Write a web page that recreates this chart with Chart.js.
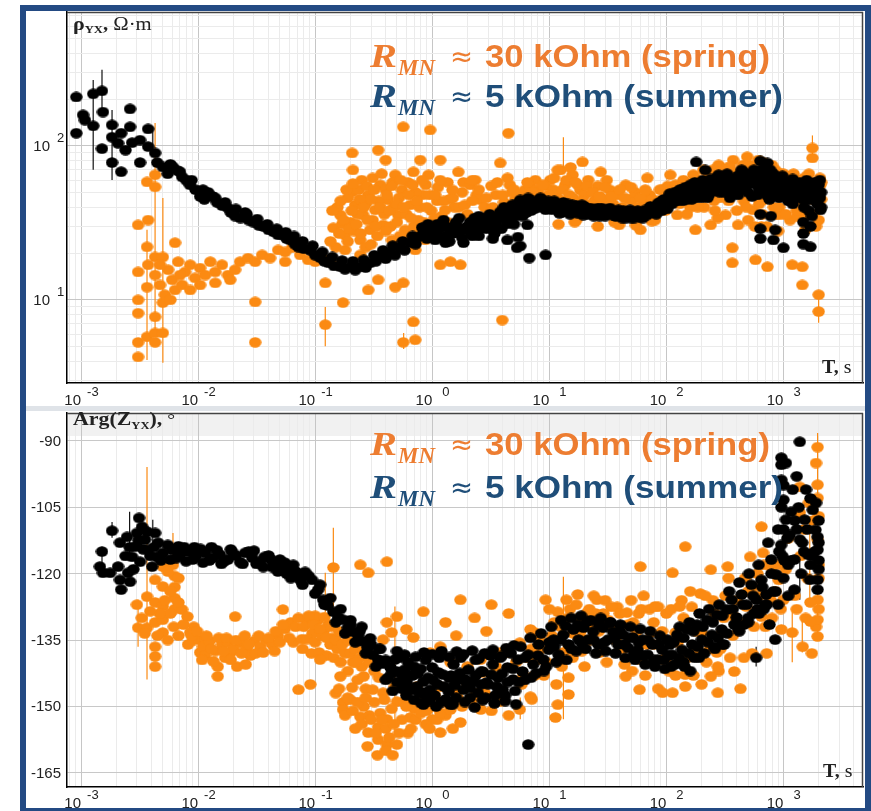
<!DOCTYPE html>
<html lang="en">
<head>
<meta charset="UTF-8">
<title>rho_yx and Arg(Z_yx) vs T</title>
<script src="https://cdn.jsdelivr.net/npm/chart.js"></script>
<style>
    body { margin: 0; background: #fff; }
    #wrap { position: relative; width: 871px; height: 811px; overflow: hidden; background: #fff; }
    #topChart { position: absolute; left: 0; top: 0; }
    #bottomChart { position: absolute; left: 0; top: 406px; }
    #sep { position: absolute; left: 26px; top: 406px; width: 839px; height: 5px; background: #dfe3e8; }
    #frame { position: absolute; left: 20px; top: 5px; width: 851px; height: 806px; box-sizing: border-box;
             border: 6px solid #234a83; border-bottom-width: 3px; pointer-events: none; }
</style>
</head>
<body>
<div id="wrap">
    <canvas id="topChart" width="871" height="406"></canvas>
    <canvas id="bottomChart" width="871" height="405"></canvas>
    <div id="sep"></div>
    <div id="frame"></div>
</div>
<script>
// ---- data: [T (s), value] ----
const rhoSummer = [
    [0.00091,208],[0.00091,121],[0.00104,159],[0.00108,147],[0.00127,218],[0.00127,135],[0.00151,228],[0.00154,166],
    [0.00151,96],[0.00184,137],[0.00184,114],[0.00184,78],[0.00207,104],[0.0024,94],[0.0022,121],[0.0022,68],
    [0.00262,174],[0.00262,133],[0.00273,105],[0.00319,109],[0.00319,78],[0.00374,129],[0.00374,99],[0.00429,90],[0.00447,78],
    [0.005,73],[0.0061,73],[0.0073,63],[0.0085,56],[0.0104,47],[0.0122,50],[0.0145,43],[0.0177,40],[0.0207,35],[0.0252,37],
    [0.0295,32],[0.036,30],[0.044,27.7],[0.052,26.4],[0.061,24.5],[0.072,22],[0.091,21],[0.11,18.8],[0.13,17.4],[0.164,16.4],
    [0.2,16.4],[0.243,16.4],[0.295,17.4],[0.36,19],[0.44,20.2],[0.53,21.8],[0.65,23.5],[0.84,27.2],[0.96,28.5],
    [0.0055,66],[0.0067,69],[0.0079,60],[0.0095,52],[0.0113,45],[0.0133,47],[0.016,41],[0.019,37],[0.023,34],[0.027,33],
    [0.033,30.5],[0.04,28.5],[0.048,26.5],[0.057,25],[0.067,23],[0.08,21.5],[0.1,19.5],[0.12,17.8],[0.145,16.6],[0.18,15.8],
    [0.22,15.6],[0.27,16.2],[0.33,17.8],[0.4,18.5],[0.48,19.5],[0.58,21],[0.72,23],[0.75,25.5],[0.9,25],
    [0.0058,76],[0.007,68],[0.0088,60],[0.011,52],[0.014,46],[0.017,43],[0.021,39],[0.026,36],[0.032,33.5],[0.039,31],
    [0.047,29],[0.056,27.5],[0.066,26],[0.078,24],[0.095,22.5],[0.115,20.5],[0.14,19],[0.17,18],[0.21,17.8],[0.26,18.2],
    [0.32,19.5],[0.38,21],[0.46,22.5],[0.56,24],[0.68,26],[0.82,29.5],[0.92,31],
    [1.06,24.5],[1.17,29.4],[1.35,26.4],[1.57,30.7],[1.8,25.3],[2.11,32],[2.43,27.7],[2.84,34],[3.26,29.4],[3.81,37.3],
    [4.38,31.2],[4.83,41.4],[5.65,44.6],[6.6,45.9],[7.6,41.4],[8.7,44.6],[10.2,41.4],[11.9,40.2],[13.7,40.2],[16,38.4],
    [18.4,39.4],[21.5,37.3],[24.7,38.4],[29,36.7],[33.9,37.3],[40.4,35.6],[47.3,37.3],[55.4,35.6],[66,38.4],[75.9,39.4],
    [89,43.3],[104,45.9],[119,50.2],[140,47.3],[160,55.9],[184,50.2],[215,55.9],[252,53.4],[290,58.4],[339,62],[389,51.8],
    [447,60.1],[522,64.9],[600,55.9],[675,66.9],[775,60.1],[906,51.8],[1040,55.9],[1190,48.1],[1400,51.8],[1640,44.6],
    [1880,48.1],[2070,38.4],
    [1.25,33],[1.65,27.5],[2.3,30.5],[3.0,31.5],[4.0,34.5],[5.2,37],[6.1,40],[7.0,38],[9.3,38.5],[12.8,37],[15,36],
    [19.5,35.5],[27,35],[37,34.8],[50,34],[60,34.5],[82,36],[96,40],[112,42],[130,52],[150,45],[170,48],[200,46],[235,49],
    [270,62],[310,50],[360,56],[420,65],[480,55],[560,70],[640,62],[720,48],[820,66],[950,58],[1100,44],[1250,55],[1500,40],
    [1750,55],[1950,42],[2100,50],
    [1.1,31],[1.3,23.5],[1.45,28],[1.7,34],[1.95,28.5],[2.2,26],[2.5,35],[2.7,30],[3.1,36],[3.4,27],[3.6,33],[4.2,38],
    [4.6,35],[5.0,31],[5.4,40],[5.9,35],[6.3,42],[7.2,44],[8.0,40],[8.4,46],[9.6,43],[11,44],[12.5,38.5],[14.5,42],
    [17,41],[20,40.5],[23,36],[26,39.5],[31,38.5],[35,35.5],[43,38],[45,34],[52,36.5],[58,37],[63,34],[71,36.5],
    [78,37.5],[86,40],[92,38],[100,42],[107,49],[115,46],[125,44],[135,52],[145,54],[165,45],[175,58],[195,53],[205,60],
    [225,46],[245,57],[260,51],[280,65],[300,54],[330,58],[350,46],[375,60],[400,56],[430,52],[460,67],[500,58],[540,47],
    [580,63],[620,52],[660,58],[700,72],[740,56],[800,50],[860,62],[920,46],[980,64],[1060,48],[1150,58],[1200,42],
    [1300,50],[1350,56],[1450,46],[1550,52],[1650,38],[1800,52],[1900,44],[2000,56],[2050,46],[2100,40],
    [1.02,26.5],[1.1,27.5],[1.2,25.5],[1.3,30],[1.4,24],[1.5,27],[1.6,32],[1.75,29],[1.85,23.5],[2.0,30],[2.15,27],
    [2.3,34],[2.5,26],[2.6,32],[2.9,29],[3.1,33.5],[3.3,25],[3.5,30.5],[3.7,35],[3.9,29],[4.1,40],[4.5,33],[4.7,38],
    [5.1,35],[5.3,42],[5.8,38],[6.4,37],[6.8,43],[7.4,39],[8.1,43],[8.9,40],[9.8,44],
    [10.5,38.5],[11.5,42],[12.2,36.5],[13.2,43],[14.8,38.5],[15.8,41.5],[17.5,36.5],[19,41.5],[21,36],[22.5,39.5],
    [24,35],[26,37],[28,39.5],[30,35],[33,39.5],[36,36.5],[39,38.5],[42,34],[46,35.5],[49,38.5],[53,34],[57,38],[62,36],
    [68,35.5],[73,40.5],[80,38],[85,42.5],[90,40],[95,45],[102,39],[110,47],[118,44],[128,47],[138,44],[148,50],[158,46],
    [168,53],[180,46],[190,57],[210,50],[230,53],[240,61],[265,56],[285,50],[310,57],[330,66],[355,51],[380,62],[410,48],
    [440,70],[470,58],[500,50],[530,66],[560,57],[600,48],[650,70],[690,62],[730,54],[770,70],[810,56],[880,60],[930,55],
    [1000,50],[1080,58],[1120,52],[1200,61],[1280,46],[1380,58],[1480,50],[1580,60],[1700,48],[1850,58],[1950,52],[2050,60],
    [635,80],[635,66],[635,36],[635,29],[635,25],[1480,55],[1480,45],[1480,32],[1480,27],[1480,23],
    [180,78.7],[215,69.8],[730,77.6],[822,24.5],[1000,21.8],[1700,22.1],[850,28.5],[5.65,22.4],[6.74,18.7],[9.3,19.6],
    [4.38,24.5],[5.4,25.6],[780,35],[760,45],[1700,30],[1750,35],[6.5,30.7],[5.3,21.8]
];
const rhoSpring = [
    [0.00307,30.7],[0.00374,33],[0.00366,58.4],[0.00429,64.9],[0.00429,54.2],[0.00307,15.2],[0.00307,10],[0.00307,8.2],
    [0.00307,5.3],[0.00307,4.26],[0.00366,22.1],[0.00366,12.1],[0.00366,5.75],[0.00429,6.1],[0.00429,5.3],[0.005,6.1],
    [0.00429,19],[0.005,9.6],[0.00429,7.76],[0.00635,23.5],[0.005,19],
    [0.00374,16.9],[0.00429,14.5],[0.00473,12.5],[0.00554,15.7],[0.006,13.5],[0.00675,17.7],[0.00775,15.2],[0.00855,16.9],
    [0.0094,13.9],[0.0104,16.1],[0.0115,14.5],[0.0127,17.7],[0.014,15.2],[0.016,16.9],[0.018,14.5],[0.0207,15.7],
    [0.0228,17.7],[0.0267,18.7],[0.0307,17.7],[0.0352,19.6],[0.0412,18.7],[0.0483,21.1],[0.0554,20.5],[0.0636,21.8],
    [0.0744,19.6],[0.087,18.2],[0.1,17.7],[0.115,18.7],[0.134,17.7],[0.0744,22.8],[0.0554,17.7],
    [0.0052,10.8],[0.00635,11.6],[0.0073,12.5],[0.00855,11.6],[0.0104,12.5],[0.014,12.9],[0.0188,13.5],[0.00473,16.9],
    [0.007,14.5],[0.0058,10],
    [0.0307,9.7],[0.0307,5.3],[0.122,6.9],[0.207,90],[0.21,69.8],[0.207,50.2],[0.345,94],[0.122,12.9],[0.173,9.6],
    [0.565,133],[0.96,127],[0.284,11.6],[0.345,13.5],[0.483,12.1],[0.565,12.9],[0.565,5.3],[0.69,7.2],[0.716,5.5],
    [0.143,29.4],[0.164,35.6],[0.18,26.4],[0.2,32],[0.22,41.4],[0.243,24.5],[0.257,35.6],[0.284,48.1],[0.295,28.5],
    [0.326,38.4],[0.36,55.9],[0.381,30.7],[0.42,44.6],[0.453,24.5],[0.483,64.9],[0.512,35.6],[0.55,51.8],[0.587,28.5],
    [0.65,41.4],[0.69,67.8],[0.76,33],[0.83,48.1],[0.87,24.5],[0.93,64.9],[0.4,81],[0.25,60],[0.79,81],[0.716,21.1],
    [0.18,21.1],[0.243,19.6],
    [0.15,22],[0.155,40],[0.17,31],[0.19,46],[0.19,24],[0.215,28],[0.23,36],[0.235,52],[0.27,42],[0.27,22],[0.31,33],
    [0.31,62],[0.34,26],[0.35,44],[0.39,36],[0.4,52],[0.44,30],[0.46,58],[0.47,40],[0.52,46],[0.53,26],[0.6,36],[0.62,58],
    [0.7,30],[0.72,50],[0.78,40],[0.85,32],[0.88,56],[0.98,38],[1.0,29],[1.1,44],[1.2,35],[1.35,58],[1.4,45],[1.55,40],
    [1.6,30],[1.8,50],[2.0,36],
    [0.135,24],[0.14,38],[0.16,27],[0.165,44],[0.175,33],[0.185,52],[0.195,29],[0.205,38],[0.21,57],[0.225,31],[0.24,45],
    [0.245,27],[0.26,40],[0.275,55],[0.28,33],[0.3,45],[0.3,23],[0.32,52],[0.33,30],[0.36,40],[0.37,66],[0.4,28],[0.41,48],
    [0.43,38],[0.45,55],[0.5,32],[0.5,42],[0.54,60],[0.57,40],[0.6,26],[0.63,48],[0.66,34],[0.68,56],[0.74,44],[0.8,28],
    [0.82,60],[0.9,40],[0.95,48],[1.05,34],[1.12,54],[1.25,44],[1.35,32],[1.5,46],[1.7,40],[1.85,58],
    [4.47,121],[3.81,77.6],[1.67,67.8],[2.33,60],[1.17,60],[1.17,16.9],[1.43,17.7],[1.74,16.9],[3.96,7.4],
    [1.06,48.1],[1.29,38.4],[1.49,51.8],[1.9,41.4],[2.11,55.9],[2.6,44.6],[3.0,35.6],[3.5,48.1],[4.6,55.9],[5.1,44.6],
    [6.2,51.8],[7.6,60],[8.3,48.1],[10.2,60],[11.3,48.1],[12.5,69.8],[13.7,55.9],[15.8,64.9],[16.5,32],[18.4,51.8],
    [21.5,60],[24.7,44.6],[27.5,67.8],[33,51.8],[39.5,30.7],[45,55.9],[51,44.6],[60,28.5],[68.7,62],[80,33],[93,51.8],
    [108,64.9],[124,35.6],[153,55.9],[177,28.5],[207,69.8],[239,30.7],[280,75.3],[320,35.6],[372,81],[410,30.7],
    [475,69.8],[550,38.4],[610,81],[675,44.6],[775,64.9],[880,35.6],[1030,60],[1140,33],[1340,48.1],[1540,28.5],
    [1800,44.6],[2070,55.9],
    [2.4,48],[2.8,40],[3.2,55],[4.1,43],[4.8,50],[5.5,48],[6.8,55],[7.9,52],[9.2,55],[10.8,52],[12.2,45],[14,60],[16,46],
    [17.5,56],[20,48],[22.5,42],[26,55],[29,45],[31,60],[35,42],[38,48],[42,40],[48,45],[54,50],[57,40],[64,44],[72,48],
    [85,44],[98,38],[103,55],[115,48],[130,42],[140,60],[160,40],[190,60],[210,40],[230,65],[255,44],[275,34],[300,62],
    [340,44],[360,68],[400,38],[440,60],[460,44],[520,75],[570,30],[600,66],[660,36],[700,58],[720,30],[800,75],[830,40],
    [950,66],[970,36],[1080,58],[1220,66],[1320,35],[1400,60],[1650,66],[1900,30],[2050,62],[2100,45],
    [2.2,44],[2.5,52],[2.9,46],[3.3,40],[3.6,58],[4.0,48],[4.4,62],[5.0,52],[5.8,45],[6.5,58],[7.2,50],[8.8,56],[9.8,48],
    [11,62],[13,52],[14.8,48],[16.8,58],[19,44],[21,55],[23.5,50],[27,47],[30,54],[34,47],[40,52],[44,46],[50,54],[60,46],
    [66,52],[76,45],[88,52],[95,45],[120,56],[135,46],[170,65],[185,40],[225,56],[250,70],[290,46],[330,72],[380,56],
    [450,75],[480,40],[560,64],[620,42],[680,78],[760,52],[850,70],[920,40],[1000,66],[1050,36],[1150,50],[1250,44],
    [1400,40],[1500,62],[1700,50],[1800,36],[1950,45],[2100,58],
    [366,21.8],[366,17.4],[577,18.2],[730,16.4],[1190,16.9],[1450,16.4],[1450,12.5],[2000,10.8],[2000,8.4],[1770,97],
    [1770,83.5],[1700,57.5],[11.8,69.8],[15.2,72.5],[19.2,78.7],[350,73],[490,85],[310,67.8],[1.17,81],[2.2,60],
    [12,31],[17,33],[26,30],[36,32],[55,30.5],[75,32.5],[150,36],[260,38],[500,33],[650,30],[900,28],[1300,38],
    [1600,36],[2000,33]
];
const phaseSummer = [
    [0.00151,-115],[0.00145,-118.4],[0.00184,-110.3],[0.00154,-119.8],[0.00177,-119.8],[0.00207,-118.4],[0.00215,-121.4],
    [0.0022,-123.6],[0.00215,-113],[0.00247,-111.7],[0.00252,-119.8],[0.00262,-121.8],[0.00273,-116.2],[0.0029,-113.9],
    [0.003,-110.8],[0.00313,-107.4],[0.00319,-117.3],[0.00332,-109.4],[0.00352,-112.3],[0.00366,-110.5],[0.00374,-114.6],
    [0.00405,-118.4],[0.00429,-110.8],[0.00447,-116.2],[0.00455,-113],
    [0.0024,-116],[0.0028,-119],[0.0034,-114.5],[0.0039,-116],[0.0026,-114],[0.0031,-112.5],[0.0042,-114],
    [0.005,-115.3],[0.006,-114.6],[0.007,-115.7],[0.0082,-115],[0.0096,-115.9],[0.0115,-115.3],[0.0135,-116.4],
    [0.0154,-115.7],[0.018,-116.8],[0.021,-115.9],[0.0252,-115.3],[0.029,-116.4],[0.034,-117.3],[0.04,-115.9],
    [0.046,-117.5],[0.053,-118.4],[0.061,-119.1],[0.07,-120.2],[0.079,-120],
    [0.0055,-113.5],[0.0065,-116.5],[0.0076,-114],[0.009,-116.8],[0.0105,-114.4],[0.0125,-117],[0.0145,-114.7],
    [0.0167,-117.2],[0.0195,-115],[0.0228,-117.4],[0.027,-115],[0.0315,-117.8],[0.037,-116.2],[0.043,-118.5],
    [0.05,-116.8],[0.057,-120],[0.065,-118],[0.075,-121.5],
    [0.0048,-117],[0.0058,-116.8],[0.0068,-113.8],[0.0079,-117.2],[0.0093,-114],[0.011,-117.5],[0.013,-114],
    [0.0158,-117.8],[0.019,-114.5],[0.024,-117.8],[0.03,-114.8],[0.036,-118.5],[0.042,-116.8],[0.048,-119.5],
    [0.055,-117.5],[0.062,-121],[0.068,-119.5],[0.078,-122.5],[0.088,-120.5],[0.1,-124.5],[0.11,-122.5],[0.12,-127],
    [0.135,-125.5],[0.15,-131],[0.165,-128],[0.18,-133.5],[0.2,-131.5],[0.22,-135.5],[0.24,-133],[0.27,-138],[0.3,-136],
    [0.33,-141],[0.35,-137],[0.4,-139.5],
    [0.082,-119.6],[0.094,-121.4],[0.106,-123.6],[0.117,-125.9],[0.128,-127.2],[0.143,-128.6],[0.157,-129.9],
    [0.173,-130.4],[0.19,-132.2],[0.21,-133.1],[0.233,-134],[0.256,-135.3],[0.28,-136.7],[0.31,-138.3],[0.345,-139.4],
    [0.38,-140.3],[0.44,-141.2],[0.5,-142.1],[0.565,-143.9],[0.65,-143],[0.74,-145.5],[0.84,-144.4],[0.96,-146.2],
    [0.295,-134.6],[0.48,-139.4],[0.58,-141.7],[0.67,-146.2],[0.2,-130.5],[0.25,-132],[0.36,-137],[0.42,-143.5],
    [0.55,-146],[0.62,-140],[0.8,-141.5],[0.9,-148],
    [0.4,-144],[0.46,-146.5],[0.52,-139],[0.6,-147.5],[0.7,-141],[0.78,-147],[0.88,-139.5],[1.05,-147.5],[1.15,-139],
    [1.3,-148.4],[1.45,-143],[1.6,-148],[1.75,-139],[1.95,-144.5],[2.1,-148],[2.35,-139.5],[2.6,-145],[2.85,-148],
    [3.15,-138.5],[3.45,-147.5],[3.8,-139],[4.2,-147.5],[4.7,-138],[5.1,-146.5],[5.7,-136.5],[6.2,-144],[6.9,-134.5],
    [7.7,-142.5],[8.5,-133.5],[9.4,-141],[10.4,-132],[11.5,-140],[12.6,-130.5],[14,-139.5],[15.4,-130],[17,-137.5],
    [18.7,-129.5],[20.5,-137],[22.6,-130.5],[25,-138],[27.5,-130],[30.3,-137.5],[33.4,-131],[36.8,-138],[40.5,-131.5],
    [44.7,-139],[49.2,-132],[54.2,-139.5],[59.8,-132.5],[66,-140.5],[72.6,-133],[80,-141],[88,-134],[97,-141.5],
    [107,-136],[118,-140.5],[130,-132],[143,-141],[158,-131],[174,-139],[192,-129],[211,-138],[232,-128],[256,-136.5],
    [283,-127],[312,-136],[344,-124],[380,-131.5],[420,-122],[460,-131.5],[508,-120],[560,-129],[615,-118],[680,-128],
    [740,-113],[820,-124],[900,-110],[980,-116],[1160,-106],[1300,-98],[1420,-120],[1560,-101],[1740,-116],[1900,-104],
    [2000,-113],
    [0.45,-142.5],[0.5,-144.5],[0.55,-142.8],[0.61,-144.8],[0.68,-143],[0.75,-142.6],[0.83,-146.8],[0.92,-143.5],
    [1.02,-144],[1.13,-142.3],[1.26,-145.5],[1.4,-143.6],[1.55,-145.2],[1.72,-142.4],[1.9,-143.8],[2.1,-145.8],[2.35,-143],
    [2.6,-142.2],[2.9,-144.6],[3.2,-142.8],[3.55,-145.5],[3.95,-142.6],[4.4,-144.5],[4.9,-141.5],
    [0.7,-148.5],[0.8,-149.2],[0.95,-148.8],[1.08,-150],[1.2,-149],[1.5,-149.5],[1.9,-149],[2.3,-150.2],[2.7,-148.6],
    [3.4,-149.3],[4.2,-148.8],[5.2,-149.5],
    [0.5,-137.5],[0.58,-138.3],[0.72,-138.8],[0.85,-137.8],[1.0,-138.2],[1.2,-137.5],[1.4,-138.8],[1.62,-137.6],
    [1.85,-138.2],[2.2,-137.4],[2.5,-139.2],[2.8,-138],[3.3,-137.2],[3.9,-138.6],[4.3,-136.8],[5,-136.2],
    [5.5,-144.5],[6.2,-139],[7,-143.5],[8,-138.5],[9,-142],[10,-135.5],[11,-136.5],[12.5,-135],[13.8,-131.8],[15.5,-137],
    [17.5,-131.5],[19,-135.8],[21,-130.8],[24,-135],[26.5,-131.5],[29.5,-135.5],[33,-131],[36,-134.5],[40,-133],[44,-136],
    [48,-134.5],[53,-138],[58,-135.5],[64,-138.5],[70,-135],[78,-139.5],[86,-136],[95,-139.5],[105,-138.5],[115,-135.5],
    [128,-139],[140,-134.5],[155,-138],[170,-133],[185,-136.5],[205,-132],[225,-135.5],[250,-131],[275,-134.5],
    [300,-129.5],[330,-133.5],[370,-128],[410,-132.5],[450,-127],[500,-130],[550,-125],[600,-128],[660,-123],[720,-127],
    [790,-120],[860,-124],[920,-115],[1000,-121],[1080,-112],[1150,-117],[1250,-108],[1350,-105],[1450,-113],[1600,-110],
    [1700,-103],[1850,-115],[2000,-119],[1000,-110],[960,-105],[1000,-100],[1020,-117],[1050,-95],
    [1.0,-141.2],[1.11,-145],[1.24,-142.8],[1.38,-146.6],[1.52,-140.5],[1.67,-143.9],[1.85,-146.2],[2.04,-141.7],
    [2.22,-144.4],[2.45,-146.9],[2.7,-142.1],[3.0,-145],[3.3,-140.5],[3.65,-143.5],[4.0,-146.2],[4.4,-141.2],[4.9,-143.9],
    [5.4,-139.4],[5.9,-142.1],[6.6,-138.3],[7.3,-140.5],[8.1,-136],[8.9,-139.4],[9.9,-137.2],[10.9,-134.9],[12,-138.3],
    [13.2,-133.8],[14.6,-136],[16.1,-132.6],[17.8,-134.9],[19.6,-132.2],[21.5,-134.9],[23.7,-133.1],[26.2,-136],
    [28.9,-132.2],[31.8,-134.9],[35,-133.1],[38.6,-136],[42.5,-133.8],[46.9,-136.7],[51.6,-134.4],[56.9,-137.2],
    [62.7,-134.9],[69,-138.3],[76,-136],[83.8,-139.4],[92.4,-137.2],[102,-134.9],[112,-138.3],[124,-133.8],[136,-137.2],
    [150,-132.6],[166,-136],[183,-131.5],[201,-134.9],[222,-130.4],[245,-133.8],[270,-129.3],[297,-132.6],[328,-128.1],
    [361,-125.9],[398,-129.9],[439,-124.7],[484,-127],[533,-122.5],[588,-125.9],[648,-121.4],[715,-124.7],[788,-116.8],
    [868,-120.2],[957,-113.5],[1050,-107.8],[1000,-103.3],[960,-98.8],[960,-95.4],[960,-93.8],[1130,-111.2],[1240,-116.8],
    [1380,-90.2],[1380,-112.3],[1520,-107.8],[1620,-115.7],[1680,-121.4],[1780,-105.6],[1880,-110.1],[1960,-111.7],
    [1960,-114.6],[1960,-121.4],[1960,-123.6],[850,-134.9],[585,-139],[6.6,-158.6],[1.43,-149.6],[0.84,-149.6],
    [760,-131.5],[1240,-123.6],
    [110,-141],[140,-140],[160,-142],[190,-139],[260,-137],[300,-136],[420,-133],[500,-131],[620,-129],[700,-127],
    [900,-127],[1100,-118],[1200,-101],[1300,-110],[1500,-115],[1100,-125],[1700,-118],[2000,-117],[2000,-108]
];
const phaseSpring = [
    [0.003,-127],[0.00307,-132.2],[0.00366,-125.2],[0.00366,-132.2],[0.00429,-121.4],[0.00429,-126.5],[0.00429,-131],
    [0.00429,-136.5],[0.00429,-138.7],[0.00429,-141],[0.005,-118.4],[0.005,-122.9],[0.005,-127.4],[0.005,-130.4],
    [0.005,-133.3],[0.0061,-118],[0.0063,-120.5],[0.0063,-123],[0.0063,-125.5],[0.0063,-128],[0.0073,-128.1],
    [0.0081,-129.7],[0.0092,-132],[0.00855,-133.3],[0.0104,-134.9],[0.0104,-137.8],[0.0122,-136.5],[0.0147,-141],
    [0.0147,-143.2],[0.019,-137.8],[0.0207,-129.7],[0.0215,-141],[0.0255,-140.5],
    [0.0055,-119.5],[0.0058,-124],[0.0058,-129],[0.0052,-126],[0.0068,-121],[0.0068,-126.5],[0.0045,-134],[0.0047,-129],
    [0.0039,-128.5],[0.0035,-133.5],[0.0033,-130],
    [0.0092,-135],[0.011,-136.5],[0.0125,-135.2],[0.014,-137.5],[0.016,-136],[0.018,-135.5],[0.02,-137],[0.023,-135.7],
    [0.026,-136.8],[0.03,-135.2],[0.034,-136.5],[0.038,-135],[0.043,-136],[0.048,-134],[0.0115,-138.5],[0.017,-139],
    [0.028,-138.5],[0.053,-128.1],
    [0.0055,-135],[0.0062,-132],[0.0068,-134],[0.0075,-131.5],[0.0082,-136],[0.0088,-134],[0.0098,-133],[0.0108,-139.5],
    [0.0118,-134],[0.013,-137],[0.0135,-139.8],[0.015,-134.5],[0.0165,-137.5],[0.0175,-134.5],[0.019,-139.5],[0.021,-135],
    [0.0235,-138],[0.025,-134],[0.027,-136],[0.031,-138],[0.033,-134],[0.036,-137.8],[0.04,-134.5],[0.045,-137.5],
    [0.05,-135.5],[0.055,-132.5],[0.062,-131],[0.065,-135.5],
    [0.046,-133],[0.053,-131.5],[0.06,-134.5],[0.068,-132],[0.077,-134.8],[0.086,-131],[0.095,-133.5],[0.105,-130.5],
    [0.118,-133],[0.13,-131.5],[0.14,-134.5],[0.072,-130],[0.1,-129.5],
    [0.078,-137],[0.085,-134.8],[0.093,-138],[0.1,-135.5],[0.108,-137.8],[0.115,-134],[0.125,-138.5],[0.135,-136],
    [0.145,-139],[0.155,-137],[0.165,-140],[0.18,-138],[0.19,-142],[0.21,-140],[0.23,-144],[0.25,-141],[0.27,-146],
    [0.08,-132],[0.088,-129.5],[0.096,-131.5],[0.11,-132.5],[0.12,-129.8],[0.125,-134.5],[0.138,-132],[0.15,-135],
    [0.16,-133],[0.17,-136],[0.19,-135],[0.2,-138],[0.22,-137],[0.24,-139],[0.26,-137.5],[0.29,-140],[0.32,-142],
    [0.35,-143.5],[0.3,-138.5],
    [0.072,-146.2],[0.091,-145],[0.11,-139.4],[0.143,-118.6],[0.243,-118],[0.284,-119.8],[0.41,-117.3],
    [0.164,-143.2],[0.173,-149.1],[0.173,-150.7],[0.207,-145.7],[0.243,-152.3],[0.284,-155.9],[0.345,-157.5],
    [0.41,-158.6],[0.5,-158.6],[0.345,-154.7],[0.41,-152.9],[0.5,-148.9],[0.65,-152.5],[0.84,-128.6],[0.41,-131],
    [0.5,-129.7],[0.6,-132.6],[0.69,-134.4],[0.45,-133.3],[0.38,-134.9],[0.284,-136.5],[0.22,-140],[0.26,-143.2],
    [0.31,-146.2],[0.38,-146.9],[0.48,-145.5],[0.6,-146.9],[0.77,-148.4],[1.0,-150],[1.0,-152.9],
    [0.15,-147],[0.18,-152],[0.2,-148.5],[0.22,-155],[0.26,-150],[0.29,-152],[0.32,-149],[0.36,-151.5],[0.4,-155],
    [0.45,-150.5],[0.55,-153],[0.58,-149],[0.7,-150.5],[0.74,-145.5],[0.88,-154],[0.9,-151],[1.05,-147.5],[1.25,-149],
    [1.55,-146],[1.8,-150],[2.0,-145],[0.34,-161],[0.62,-156],
    [0.16,-146],[0.19,-148],[0.21,-151],[0.23,-149],[0.25,-154],[0.27,-148],[0.3,-153],[0.33,-156],[0.37,-153],
    [0.39,-148.5],[0.43,-157],[0.47,-154],[0.52,-156],[0.6,-150],[0.66,-155],[0.72,-153],[0.8,-151.5],[0.95,-155],
    [1.1,-153],[1.3,-152],[1.5,-155],[1.65,-148],[2.4,-147],[3.2,-151],[4.5,-152],[0.28,-159],[0.4,-160],[0.46,-161],
    [1.17,-136.5],[1.74,-125.9],[1.17,-145.5],[1.17,-151.4],[1.17,-155.9],[1.74,-153.6],[1.43,-150.7],[2.6,-150.7],
    [3.8,-148.9],[5.6,-150.7],[6.9,-147.8],[3.8,-137.8],[2.6,-139.4],[5.6,-135.6],[6.9,-132.6],[9.3,-125.9],[11.8,-149.6],
    [11.3,-152.5],[14.6,-143.5],[14.6,-147.3],[14,-125.9],[17.5,-124.7],[25.5,-125.9],[11.8,-128.6],[8.3,-134.9],
    [13.2,-137.8],
    [5.2,-140],[6,-143],[7,-137],[9,-143],[10,-128],[11,-131],[12.5,-132],[15,-128],[16,-133.5],[18,-130],[19,-137.5],
    [22,-128],[23,-132],[25,-129],[28,-137],[30,-126],[32,-130.5],[38,-127.5],[40,-132],[44,-140.5],[50,-126],[52,-131],
    [58,-129],[64,-125],[68,-136],[78,-131],[85,-127.5],[100,-129],[105,-142],[125,-135.5],[140,-130],[165,-127.5],
    [170,-143],[195,-124.5],[220,-140],[250,-126],[280,-142],[320,-125],[350,-139],[400,-126],[430,-146],[470,-121],
    [560,-132],[600,-120],[700,-132],[780,-126],[850,-124],[1050,-119],[1100,-112],[1250,-125],[1500,-110],[1600,-121],
    [1800,-108],[2000,-128],[2000,-121],
    [5.8,-145],[6.5,-139],[7.5,-143],[8.5,-137],[9.5,-140],[10.5,-134],[11.5,-145],[12.8,-141],[14.2,-130],[15.8,-139],
    [17,-127],[18.5,-133],[20,-141],[22,-135],[24,-125],[26.5,-133],[29,-129],[31,-140],[34,-127.5],[37,-135],[40,-129],
    [43,-137],[47,-131.5],[51,-142],[56,-133],[61,-128],[66,-143],[72,-128],[78,-136],[85,-146],[92,-133],[100,-139],
    [110,-128],[120,-143],[135,-126],[150,-139],[160,-124],[180,-133],[200,-145],[215,-125],[235,-137],[260,-129],
    [290,-137],[310,-130],[340,-121],[370,-134],[420,-131],[460,-139],[500,-124],[540,-138],[620,-125],[680,-118],
    [720,-138],[800,-130],[880,-118],[950,-128],[1300,-128],[1400,-116],[1550,-130],[1650,-104],[1750,-138],[1900,-95],
    [2000,-107],[2000,-118],[1900,-132],
    [45,-143.2],[59,-146.2],[93,-146.9],[113,-146.9],[145,-145.5],[145,-142.8],[60,-118.4],[113,-119.8],[145,-113.9],
    [240,-119.1],[335,-118.4],[275,-146.9],[275,-141],[240,-143.2],[380,-142.1],
    [520,-116.2],[650,-109.4],[780,-118.4],[1380,-100.4],[1380,-106.2],[1960,-91.4],[1960,-99.9],[1960,-102.9],
    [1960,-112.3],[1960,-125.9],[1960,-130.4],[1960,-134.2],[1460,-136.5],[1700,-126.5],[1700,-130.8],[1190,-133.3],
    [1000,-125.9],[960,-132.6],[910,-121.4],[650,-129.7],[670,-115.3],[550,-123],[480,-127.4],[380,-129.7],[335,-128.8],
    [300,-133.3],[270,-137.8],[200,-133.3],[180,-137.8],[130,-127.4],[120,-133.3],[93,-139.4],[80,-127.4],[74,-133.3],
    [59,-139.4],[46,-128.8],[35,-132.6],[27,-137.8],[21,-128.8],[20,-134.9],
    [4.4,-137.8],[3.5,-141],[2.7,-142.3],[2.0,-141],[1.43,-140],[2.8,-146.9],[2.2,-148.4],[0.96,-137.8],[7.5,-133.3],
    [8,-139.4],[7.1,-148.4],[1.3,-131],[2.3,-130],[3.2,-127],[4.5,-129],[1.6,-134],[2.9,-133]
];
// error bars: [T, low, high]
const rhoSpringErr = [[0.00366,4.07,28.5],[0.00429,6.1,141],[0.005,3.9,45.9],[0.122,5.0,9.0],[0.57,4.8,6.1],[13.2,69.8,114],[1770,83,117],[2000,7.1,10.8]];
const rhoSummerErr = [[0.00127,70,268],[0.00151,159,312],[0.00184,60,171],[0.0041,94,133]];
const phaseSpringErr = [[0.00366,-143.9,-95.9],[0.00307,-136.5,-125.9],[0.0061,-118.4,-110.8],[0.143,-127.4,-109.6],
    [0.48,-156.8,-127.4],[0.122,-128.8,-119.8],[13.2,-152.9,-120.7],[5.65,-152.9,-148],[1680,-125.9,-107.1],
    [1960,-134.9,-88.2],[1450,-137.8,-130.4],[1190,-140,-128]];
const phaseSummerErr = [[0.0026,-115.3,-106],[0.00151,-119.8,-113.9],[0.00184,-111.9,-108.3],[0.0041,-114.6,-107.8],
    [585,-141,-136.5],[1380,-125.9,-116.8]];

// ---- axes ----
const xTickExps = [-3, -2, -1, 0, 1, 2, 3];
const rhoTickExps = [1, 2];
const phaseTicks = [-90, -105, -120, -135, -150, -165];
const xRange = [Math.pow(10, -3.12), Math.pow(10, 3.68)];
const rhoRange = [Math.pow(10, 0.46), Math.pow(10, 2.87)];
const phaseRange = [-168.2, -83.7];

const ORANGE = '#fb8a12';
const ORANGE_TXT = '#ed7d31';
const BLUE_TXT = '#1f4e79';

function logTicks(min, max) {
    const out = [];
    for (let e = Math.floor(Math.log10(min)); e <= Math.ceil(Math.log10(max)); e++) {
        for (let m = 1; m <= 9; m++) {
            const v = m * Math.pow(10, e);
            if (v >= min && v <= max) out.push({ value: v });
        }
    }
    return out;
}
function isDecade(v) {
    const l = Math.log10(v);
    return Math.abs(l - Math.round(l)) < 1e-6;
}

function makeDot(color) {
    const c = document.createElement('canvas');
    c.width = 13; c.height = 11;
    const g = c.getContext('2d');
    g.fillStyle = color;
    g.beginPath();
    g.ellipse(6.5, 5.5, 6.2, 5.2, 0, 0, Math.PI * 2);
    g.fill();
    return c;
}
const dotOrange = makeDot(ORANGE);
const dotBlack = makeDot('#000');

function toXY(arr) { return arr.map(p => ({ x: p[0], y: p[1] })); }

// text helpers
function fitText(ctx, t, font, x, y, w) {
    ctx.save();
    ctx.font = font;
    const m = ctx.measureText(t).width;
    ctx.translate(x, y);
    ctx.scale(w / m, 1);
    ctx.fillText(t, 0, 0);
    ctx.restore();
}
function runs(ctx, x, y, parts, sx) {
    ctx.save();
    ctx.translate(x, y);
    ctx.scale(sx, 1);
    let cx = 0;
    parts.forEach(p => {
        ctx.font = p[1];
        ctx.fillText(p[0], cx, p[2] || 0);
        cx += ctx.measureText(p[0]).width;
    });
    ctx.restore();
}
function drawLegend(ctx, y1, y2) {
    ctx.textAlign = 'left';
    ctx.textBaseline = 'alphabetic';
    [[ORANGE_TXT, y1, '30 kOhm (spring)', 770], [BLUE_TXT, y2, '5 kOhm (summer)', 783]].forEach(l => {
        ctx.fillStyle = l[0];
        fitText(ctx, 'R', 'italic bold 33px "Liberation Serif"', 370, l[1], 27);
        fitText(ctx, 'MN', 'italic bold 24px "Liberation Serif"', 398, l[1] + 8, 37);
        fitText(ctx, '\u2248', '28px "DejaVu Sans"', 450, l[1] - 1, 23);
        fitText(ctx, l[2], 'bold 32px "Liberation Sans"', 485, l[1], l[3] - 485);
    });
}
function drawXLabels(ctx, xs, base) {
    ctx.fillStyle = '#222';
    xTickExps.forEach(e => {
        const px = xs.getPixelForValue(Math.pow(10, e));
        ctx.font = '15px "Liberation Sans"';
        ctx.textAlign = 'right';
        ctx.fillText('10', px, base);
        ctx.textAlign = 'left';
        ctx.font = '13px "Liberation Sans"';
        ctx.fillText(String(e), px + (e < 0 ? 6 : 10), base - 9);
    });
}
function errBars(ctx, xs, ys, list, color) {
    ctx.save();
    ctx.strokeStyle = color;
    ctx.lineWidth = 1.2;
    list.forEach(b => {
        const px = xs.getPixelForValue(b[0]);
        ctx.beginPath();
        ctx.moveTo(px, ys.getPixelForValue(b[1]));
        ctx.lineTo(px, ys.getPixelForValue(b[2]));
        ctx.stroke();
    });
    ctx.restore();
}
function frameLines(ctx, a) {
    ctx.save();
    ctx.strokeStyle = '#444';
    ctx.lineWidth = 1.5;
    ctx.beginPath();
    ctx.moveTo(a.left, a.top + 0.5); ctx.lineTo(a.right, a.top + 0.5);
    ctx.moveTo(a.right - 0.5, a.top); ctx.lineTo(a.right - 0.5, a.bottom);
    ctx.stroke();
    ctx.restore();
}

function xScale() {
    return {
        type: 'logarithmic', min: xRange[0], max: xRange[1],
        ticks: { display: false },
        grid: { drawTicks: false, color: c => (c.tick && isDecade(c.tick.value)) ? '#c6c6c6' : '#ebebeb', lineWidth: 1 },
        border: { color: '#000', width: 1.5 },
        afterBuildTicks: s => { s.ticks = logTicks(s.min, s.max); },
        afterFit: s => { s.height = 0; }
    };
}
function baseOptions(yScale, pad) {
    return {
        responsive: false, animation: false,
        layout: { padding: pad },
        plugins: { legend: { display: false }, tooltip: { enabled: false } },
        scales: { x: xScale(), y: yScale }
    };
}

// ---- top chart: apparent resistivity ----
new Chart(document.getElementById('topChart'), {
    type: 'scatter',
    data: {
        datasets: [
            { label: 'summer', data: toXY(rhoSummer), pointStyle: dotBlack, pointRadius: 6 },
            { label: 'spring', data: toXY(rhoSpring), pointStyle: dotOrange, pointRadius: 6 }
        ]
    },
    options: baseOptions({
        type: 'logarithmic', min: rhoRange[0], max: rhoRange[1],
        ticks: { display: false },
        grid: { drawTicks: false, color: c => (c.tick && isDecade(c.tick.value)) ? '#c6c6c6' : '#ebebeb', lineWidth: 1 },
        border: { color: '#000', width: 1.5 },
        afterBuildTicks: s => { s.ticks = logTicks(s.min, s.max); },
        afterFit: s => { s.width = 0; }
    }, { left: 67, top: 12, right: 8, bottom: 23 }),
    plugins: [{
        id: 'topDecor',
        beforeDatasetsDraw(chart) {
            const { ctx, scales } = chart;
            errBars(ctx, scales.x, scales.y, rhoSpringErr, ORANGE);
            errBars(ctx, scales.x, scales.y, rhoSummerErr, '#111');
        },
        afterDraw(chart) {
            const { ctx, scales, chartArea } = chart;
            frameLines(ctx, chartArea);
            ctx.save();
            drawXLabels(ctx, scales.x, 405);
            ctx.fillStyle = '#222';
            rhoTickExps.forEach(e => {
                const py = scales.y.getPixelForValue(Math.pow(10, e));
                ctx.font = '15px "Liberation Sans"';
                ctx.textAlign = 'right';
                ctx.fillText('10', 50, py + 5);
                ctx.textAlign = 'left';
                ctx.font = '13px "Liberation Sans"';
                ctx.fillText(String(e), 57, py - 4);
            });
            ctx.fillStyle = '#222';
            runs(ctx, 73, 30, [['\u03c1', 'bold 19px "Liberation Serif"'], ['YX', 'bold 11px "Liberation Serif"', 3],
                [', ', 'bold 18px "Liberation Serif"'], ['\u03a9\u00b7m', '18px "Liberation Serif"']], 1.15);
            runs(ctx, 822, 373, [['T,', 'bold 18px "Liberation Serif"'], [' s', '18px "Liberation Serif"']], 1.1);
            drawLegend(ctx, 67, 107);
            ctx.restore();
        }
    }]
});

// ---- bottom chart: impedance phase ----
new Chart(document.getElementById('bottomChart'), {
    type: 'scatter',
    data: {
        datasets: [
            { label: 'summer', data: toXY(phaseSummer), pointStyle: dotBlack, pointRadius: 6 },
            { label: 'spring', data: toXY(phaseSpring), pointStyle: dotOrange, pointRadius: 6 }
        ]
    },
    options: baseOptions({
        type: 'linear', min: phaseRange[0], max: phaseRange[1],
        ticks: { display: false },
        grid: { drawTicks: false, color: '#c8c8c8', lineWidth: 1 },
        border: { color: '#000', width: 1.5 },
        afterBuildTicks: s => { s.ticks = phaseTicks.map(v => ({ value: v })); },
        afterFit: s => { s.width = 0; }
    }, { left: 67, top: 7, right: 8, bottom: 24 }),
    plugins: [{
        id: 'bottomDecor',
        beforeDraw(chart) {
            const { ctx, chartArea: a } = chart;
            ctx.save();
            ctx.fillStyle = '#f1f1f1';
            ctx.fillRect(a.left, a.top, a.right - a.left, 23);
            ctx.restore();
        },
        beforeDatasetsDraw(chart) {
            const { ctx, scales } = chart;
            errBars(ctx, scales.x, scales.y, phaseSpringErr, ORANGE);
            errBars(ctx, scales.x, scales.y, phaseSummerErr, '#111');
        },
        afterDraw(chart) {
            const { ctx, scales, chartArea } = chart;
            frameLines(ctx, chartArea);
            ctx.save();
            drawXLabels(ctx, scales.x, 402);
            ctx.fillStyle = '#222';
            ctx.font = '15px "Liberation Sans"';
            ctx.textAlign = 'right';
            phaseTicks.forEach(v => {
                ctx.fillText(String(v), 61, scales.y.getPixelForValue(v) + 5);
            });
            ctx.textAlign = 'left';
            runs(ctx, 73, 425 - 406, [['Arg(Z', 'bold 19px "Liberation Serif"'], ['YX', 'bold 11px "Liberation Serif"', 4],
                ['),', 'bold 19px "Liberation Serif"'], [' \u00b0', '17px "Liberation Serif"']], 1.15);
            runs(ctx, 823, 777 - 406, [['T,', 'bold 18px "Liberation Serif"'], [' s', '18px "Liberation Serif"']], 1.1);
            drawLegend(ctx, 455 - 406, 498 - 406);
            ctx.restore();
        }
    }]
});
</script>
</body>
</html>
